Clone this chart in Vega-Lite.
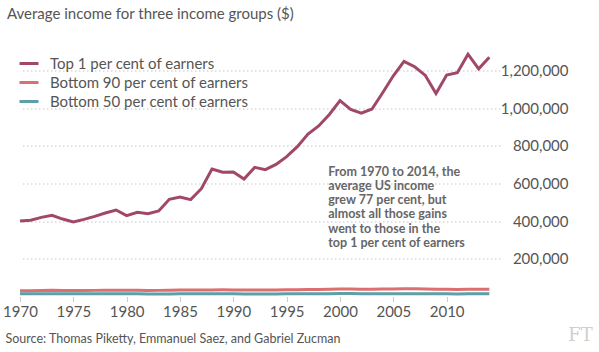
{
  "$schema": "https://vega.github.io/schema/vega-lite/v6.json",
  "width": 480,
  "height": 245,
  "autosize": {"type": "none"},
  "padding": {"left": 20, "top": 51.5, "right": 99, "bottom": 55.5},
  "background": "white",
  "config": {"view": {"stroke": null}, "font": "Lato"},
  "title": {
    "text": "Average income for three income groups ($)",
    "anchor": "start",
    "frame": "group",
    "dx": -13,
    "dy": -22,
    "font": "Lato",
    "fontSize": 15,
    "fontWeight": "normal",
    "color": "#555555"
  },
  "layer": [
    {
      "data": {
        "values": [
          {"year": 1970, "top1": 400000, "b90": 30000, "b50": 14000},
          {"year": 1971, "top1": 405000, "b90": 30500, "b50": 14100},
          {"year": 1972, "top1": 420000, "b90": 31500, "b50": 14500},
          {"year": 1973, "top1": 431000, "b90": 32500, "b50": 15000},
          {"year": 1974, "top1": 411000, "b90": 32000, "b50": 14800},
          {"year": 1975, "top1": 395000, "b90": 31500, "b50": 14400},
          {"year": 1976, "top1": 409000, "b90": 32000, "b50": 14600},
          {"year": 1977, "top1": 425000, "b90": 32500, "b50": 14700},
          {"year": 1978, "top1": 443000, "b90": 33500, "b50": 15100},
          {"year": 1979, "top1": 459000, "b90": 33500, "b50": 15100},
          {"year": 1980, "top1": 429000, "b90": 33000, "b50": 14700},
          {"year": 1981, "top1": 447000, "b90": 32800, "b50": 14400},
          {"year": 1982, "top1": 439000, "b90": 32000, "b50": 13900},
          {"year": 1983, "top1": 454000, "b90": 32500, "b50": 13700},
          {"year": 1984, "top1": 516000, "b90": 33500, "b50": 13900},
          {"year": 1985, "top1": 528000, "b90": 34000, "b50": 14000},
          {"year": 1986, "top1": 514000, "b90": 34500, "b50": 14100},
          {"year": 1987, "top1": 572000, "b90": 34800, "b50": 14100},
          {"year": 1988, "top1": 676000, "b90": 35000, "b50": 14100},
          {"year": 1989, "top1": 659000, "b90": 35200, "b50": 14200},
          {"year": 1990, "top1": 660000, "b90": 35000, "b50": 14100},
          {"year": 1991, "top1": 623000, "b90": 34500, "b50": 13900},
          {"year": 1992, "top1": 685000, "b90": 34500, "b50": 13800},
          {"year": 1993, "top1": 673000, "b90": 34300, "b50": 13700},
          {"year": 1994, "top1": 701000, "b90": 34800, "b50": 13900},
          {"year": 1995, "top1": 742000, "b90": 35200, "b50": 14100},
          {"year": 1996, "top1": 795000, "b90": 35800, "b50": 14200},
          {"year": 1997, "top1": 862000, "b90": 36500, "b50": 14500},
          {"year": 1998, "top1": 905000, "b90": 37800, "b50": 15000},
          {"year": 1999, "top1": 966000, "b90": 38500, "b50": 15200},
          {"year": 2000, "top1": 1039000, "b90": 39500, "b50": 15500},
          {"year": 2001, "top1": 993000, "b90": 39200, "b50": 15300},
          {"year": 2002, "top1": 973000, "b90": 38800, "b50": 14900},
          {"year": 2003, "top1": 995000, "b90": 38800, "b50": 14700},
          {"year": 2004, "top1": 1081000, "b90": 39200, "b50": 14700},
          {"year": 2005, "top1": 1171000, "b90": 39800, "b50": 14800},
          {"year": 2006, "top1": 1248000, "b90": 40500, "b50": 15000},
          {"year": 2007, "top1": 1219000, "b90": 41000, "b50": 15100},
          {"year": 2008, "top1": 1173000, "b90": 40000, "b50": 14700},
          {"year": 2009, "top1": 1077000, "b90": 38500, "b50": 14200},
          {"year": 2010, "top1": 1175000, "b90": 38000, "b50": 14000},
          {"year": 2011, "top1": 1187000, "b90": 37800, "b50": 13900},
          {"year": 2012, "top1": 1286000, "b90": 38000, "b50": 14000},
          {"year": 2013, "top1": 1208000, "b90": 38200, "b50": 14200},
          {"year": 2014, "top1": 1269000, "b90": 38800, "b50": 14400}
        ]
      },
      "transform": [{"fold": ["top1", "b90", "b50"], "as": ["group", "income"]}],
      "mark": {"type": "line", "strokeWidth": 3},
      "encoding": {
        "x": {
          "field": "year",
          "type": "quantitative",
          "scale": {"domain": [1970, 2015], "nice": false, "zero": false},
          "axis": {
            "values": [1970, 1975, 1980, 1985, 1990, 1995, 2000, 2005, 2010],
            "format": "d",
            "grid": false,
            "domain": false,
            "tickColor": "#cccccc",
            "tickSize": 5,
            "labelFlush": false,
            "labelOverlap": false,
            "labelFont": "Lato",
            "labelFontSize": 15,
            "labelColor": "#555555",
            "labelPadding": 3,
            "title": "Source: Thomas Piketty, Emmanuel Saez, and Gabriel Zucman",
            "titleAnchor": "start",
            "titleAlign": "left",
            "titleX": -15,
            "titleY": 41.5,
            "titleBaseline": "middle",
            "titleFont": "Lato",
            "titleFontSize": 12.5,
            "titleFontWeight": "normal",
            "titleColor": "#555555"
          }
        },
        "y": {
          "field": "income",
          "type": "quantitative",
          "scale": {"domain": [0, 1300000], "nice": false},
          "axis": {
            "orient": "right",
            "values": [200000, 400000, 600000, 800000, 1000000, 1200000],
            "format": ",.0f",
            "grid": true,
            "gridDash": [1.5, 2.5],
            "gridColor": "#c4c4c4",
            "domain": false,
            "ticks": false,
            "labelAlign": "right",
            "labelPadding": 68,
            "labelFont": "Lato",
            "labelFontSize": 15,
            "labelColor": "#555555",
            "title": "FT",
            "titleAngle": 0,
            "titleX": 80,
            "titleY": 283.5,
            "titleAlign": "center",
            "titleBaseline": "middle",
            "titleFont": "DejaVu Serif",
            "titleFontSize": 18,
            "titleFontWeight": "normal",
            "titleColor": "#d6cec6"
          }
        },
        "color": {
          "field": "group",
          "type": "nominal",
          "scale": {"domain": ["top1", "b90", "b50"], "range": ["#a0476a", "#dc6f6f", "#5e9fa8"]},
          "legend": {
            "title": null,
            "orient": "none",
            "legendX": -2,
            "legendY": 1,
            "symbolType": "stroke",
            "symbolStrokeWidth": 3,
            "symbolSize": 361,
            "labelFont": "Lato",
            "labelFontSize": 15,
            "labelColor": "#555555",
            "labelOffset": 10,
            "labelLimit": 400,
            "rowPadding": 0,
            "labelExpr": "datum.value == 'top1' ? 'Top 1 per cent of earners' : datum.value == 'b90' ? 'Bottom 90 per cent of earners' : 'Bottom 50 per cent of earners'"
          }
        }
      }
    },
    {
      "data": {"values": [{}]},
      "mark": {
        "type": "text",
        "align": "left",
        "baseline": "middle",
        "font": "Lato",
        "fontSize": 12.5,
        "fontWeight": "bold",
        "color": "#666666",
        "lineHeight": 14.3
      },
      "encoding": {
        "x": {"datum": 1998.9},
        "y": {"datum": 663000},
        "text": {"value": ["From 1970 to 2014, the", "average US income", "grew 77 per cent, but", "almost all those gains", "went to those in the", "top 1 per cent of earners"]}
      }
    }
  ]
}
